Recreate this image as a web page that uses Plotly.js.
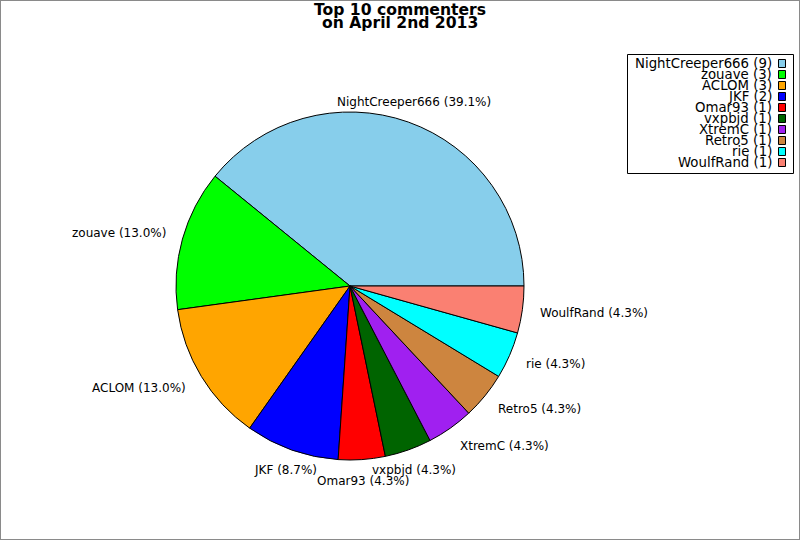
<!DOCTYPE html>
<html><head><meta charset="utf-8">
<script src="https://cdn.plot.ly/plotly-3.0.1.min.js"></script>
<style>
html,body{margin:0;padding:0;background:#fff}
#wrap{position:relative;width:800px;height:540px}
#chart{width:800px;height:540px}
#frame{position:absolute;left:0;top:0;width:800px;height:540px;box-sizing:border-box;border:1px solid #8a8a8a;pointer-events:none}
</style>
</head><body><div id="wrap"><div id="chart"></div><div id="frame"></div></div>
<script>
const commenters = ['NightCreeper666','zouave','ACLOM','JKF','Omar93','vxpbjd','XtremC','Retro5','rie','WoulfRand'];
const comments = [9,3,3,2,1,1,1,1,1,1];
const sliceColors = ['#87CEEB','#00FF00','#FFA500','#0000FF','#FF0000','#006400','#A020F0','#CD853F','#00FFFF','#FA8072'];
const titleLines = ['Top 10 commenters','on April 2nd 2013'];

const W = 800, H = 540;
const CX = 350, CY = 286, R = 174, LABEL_DIST = 1.1;
const FONT = 'DejaVu Sans, sans-serif';
const total = comments.reduce((a, b) => a + b, 0);

const px = x => x / W;
const py = y => 1 - y / H;

const annotations = [];
const shapes = [];

// slice labels placed outside, at the mid angle of each slice
let cum = 0;
commenters.forEach((name, i) => {
  const mid = (cum + comments[i] / 2) / total * 2 * Math.PI;
  cum += comments[i];
  const c = Math.cos(mid), s = Math.sin(mid);
  const x = CX + LABEL_DIST * R * c;
  const y = CY - LABEL_DIST * R * s;
  const pct = (comments[i] / total * 100).toFixed(1) + '%';
  annotations.push({
    xref: 'paper', yref: 'paper', x: px(x), y: py(y),
    xanchor: c > 0.4 ? 'left' : (c < -0.4 ? 'right' : 'center'),
    yanchor: 'middle', yshift: 4 * s,
    text: name + ' (' + pct + ')', showarrow: false,
    borderpad: 0, borderwidth: 0,
    font: {family: FONT, size: 12, color: '#000'}
  });
});

// custom legend: text right-aligned, swatch on the right
const LEG_TOP = 64, LEG_STEP = 11;
commenters.forEach((name, i) => {
  const yc = LEG_TOP + LEG_STEP * i;
  annotations.push({
    xref: 'paper', yref: 'paper', x: px(772), y: py(yc),
    xanchor: 'right', yanchor: 'middle',
    text: name + ' (' + comments[i] + ')', showarrow: false,
    borderpad: 0, borderwidth: 0,
    font: {family: FONT, size: 13.3, color: '#000'}
  });
  shapes.push({
    type: 'rect', xref: 'paper', yref: 'paper',
    x0: px(778.5), x1: px(785.5), y0: py(yc - 4.5), y1: py(yc + 3.5),
    fillcolor: sliceColors[i], line: {color: '#000', width: 1}
  });
});
shapes.push({
  type: 'rect', xref: 'paper', yref: 'paper',
  x0: px(627.5), x1: px(793.5), y0: py(54.5), y1: py(173.5),
  fillcolor: 'rgba(0,0,0,0)', line: {color: '#000', width: 1}, layer: 'below'
});

// second title line
annotations.push({
  xref: 'paper', yref: 'paper', x: 0.5, y: py(23), xanchor: 'center', yanchor: 'middle',
  text: '<b>' + titleLines[1] + '</b>', showarrow: false, borderpad: 0,
  font: {family: FONT, size: 15.6, color: '#000'}
});

// Plotly draws the first counterclockwise slice on the clockwise side of
// `rotation`; offset by its angle so it starts at 3 o'clock going counterclockwise.
const firstSliceDeg = 360 * comments[0] / total;

const trace = {
  type: 'pie',
  labels: commenters,
  values: comments,
  sort: false,
  direction: 'counterclockwise',
  rotation: 90 - firstSliceDeg,
  textinfo: 'none',
  hoverinfo: 'none',
  showlegend: false,
  marker: {colors: sliceColors, line: {color: '#000', width: 1}},
  domain: {x: [px(CX - R), px(CX + R)], y: [py(CY + R), py(CY - R)]}
};

const layout = {
  width: W, height: H,
  margin: {l: 0, r: 0, t: 0, b: 0},
  paper_bgcolor: '#fff', plot_bgcolor: '#fff',
  title: {
    text: '<b>' + titleLines[0] + '</b>',
    x: 0.5, xanchor: 'center', xref: 'paper',
    y: py(10), yref: 'container', yanchor: 'middle',
    font: {family: FONT, size: 15.6, color: '#000'}
  },
  annotations: annotations,
  shapes: shapes,
  showlegend: false
};

Plotly.newPlot('chart', [trace], layout, {staticPlot: true, displayModeBar: false});
</script>
</body></html>
